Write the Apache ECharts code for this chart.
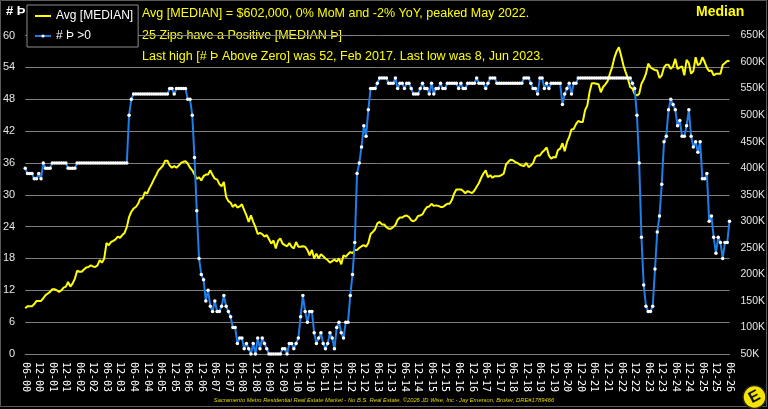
<!DOCTYPE html>
<html>
<head>
<meta charset="utf-8">
<script src="https://cdn.jsdelivr.net/npm/echarts@6/dist/echarts.min.js"></script>
<style>
  html, body { margin: 0; padding: 0; background: #000; }
  #chart { width: 768px; height: 409px; }
</style>
</head>
<body>
<div id="chart"></div>
<script>
/****** DATA ******/
// months from Jun 2000 to Jun 2026, one value per month
const startYear = 2000;
const startMonth = 6;
const monthCount = 313;

// # of zips with median price drop above zero (left axis)
const zipsAboveZero = [
  35,34,34,34,33,33,34,33,36,35,35,35,
  36,36,36,36,36,36,36,35,35,35,35,36,
  36,36,36,36,36,36,36,36,36,36,36,36,
  36,36,36,36,36,36,36,36,36,36,45,48,
  49,49,49,49,49,49,49,49,49,49,49,49,
  49,49,49,49,50,50,49,50,50,50,50,50,
  48,48,45,37,27,18,15,14,10,12,9,8,
  10,8,8,9,11,9,8,7,5,5,2,3,
  3,1,2,1,0,2,0,3,1,3,2,1,
  0,0,0,0,0,0,1,1,0,2,2,1,
  2,3,7,11,8,6,8,8,4,2,3,4,
  2,1,2,4,3,1,5,6,4,3,6,6,
  11,15,21,34,36,39,43,41,46,50,50,50,
  51,52,52,52,52,51,51,51,52,50,51,51,
  50,51,51,50,49,49,49,50,51,50,50,49,
  51,49,50,50,51,50,50,51,51,51,51,51,
  50,51,50,50,51,51,51,51,52,51,51,51,
  50,51,52,52,52,51,51,51,51,51,51,51,
  51,51,51,51,51,52,52,52,51,50,50,49,
  52,52,50,51,50,51,51,51,51,51,47,49,
  50,51,49,51,51,52,52,52,52,52,52,52,
  52,52,52,52,52,52,52,52,52,52,52,52,
  52,52,52,52,52,51,50,45,36,22,13,9,
  8,8,9,16,23,26,32,40,41,46,48,47,
  46,43,44,41,41,43,46,41,39,40,38,40,
  33,33,34,25,26,22,19,22,21,18,21,21,
  25
];

// average median price in $K (right axis)
const avgMedianK = [
  136,140,140,140,144,150,150,150,155,161,164,167,
  172,172,170,167,170,175,177,186,177,183,192,207,
  205,205,209,213,214,217,215,214,217,227,222,230,
  259,255,261,263,266,271,269,274,278,289,308,318,
  324,327,333,343,343,355,352,362,370,379,387,396,
  400,405,414,414,405,401,404,401,405,410,412,413,
  409,401,396,388,380,383,377,385,388,388,396,387,
  380,379,370,366,374,346,338,335,327,332,326,328,
  332,321,311,299,311,299,289,276,278,276,271,274,
  266,258,264,249,263,268,258,255,253,259,252,249,
  261,252,252,253,252,246,236,246,230,239,230,238,
  234,230,227,222,225,228,224,230,219,236,233,238,
  242,240,246,246,250,253,255,252,259,276,280,285,
  296,299,294,294,289,286,286,289,293,303,307,307,
  310,311,308,302,300,303,310,311,313,321,327,328,
  333,329,330,329,327,327,330,333,333,340,352,360,
  360,360,357,353,357,355,353,358,365,372,382,390,
  396,383,387,382,385,385,385,387,390,407,412,416,
  415,412,410,407,405,404,410,402,405,410,421,424,
  424,430,434,439,424,418,421,420,434,437,447,432,
  449,459,473,474,483,489,487,487,509,518,543,560,
  560,559,558,543,553,558,564,578,590,608,620,628,
  612,594,581,569,553,550,540,537,540,559,567,578,
  597,590,587,585,584,570,575,590,595,595,587,592,
  606,587,590,592,575,604,598,578,583,609,594,597,
  609,600,589,583,584,575,578,578,578,595,598,602,
  602
];

const noteLines = [
  'Avg [MEDIAN] = $602,000, 0% MoM and -2% YoY, peaked May 2022.',
  '25 Zips have a Positive [MEDIAN Þ]',
  'Last high [# Þ Above Zero] was 52, Feb 2017. Last low was 8, Jun 2023.'
];
const footerText = 'Sacramento Metro Residential Real Estate Market - No B.S. Real Estate, \u00a92026 JD Wise, Inc - Jay Emerson, Broker, DRE#1789466';

// month labels like "06-00"
var months = [];
for (var i = 0; i < monthCount; i++) {
    var m = (startMonth - 1 + i) % 12 + 1;
    var y = (startYear + Math.floor((startMonth - 1 + i) / 12)) % 100;
    months.push((m < 10 ? '0' : '') + m + '-' + (y < 10 ? '0' : '') + y);
}

var yellow = '#ffff00';
var blue = '#1f7ee8';
var gridGray = '#7f7f7f';
var font = 'Liberation Sans, Arial, sans-serif';

var myChart = echarts.init(document.getElementById('chart'));

var option = {
    animation: false,
    backgroundColor: '#000',
    grid: { left: 23, right: 35, top: 35.5, bottom: 55 },
    legend: {
        left: 27, top: 5,
        orient: 'vertical',
        backgroundColor: '#000',
        borderColor: '#8c8c8c',
        borderWidth: 1,
        padding: [5, 5, 5, 7],
        itemGap: 8,
        itemWidth: 16,
        itemHeight: 4,
        textStyle: { color: '#fff', fontSize: 12, fontFamily: font },
        data: [
            { name: 'Avg [MEDIAN]', itemStyle: { opacity: 0 } },
            { name: '# Þ >0' }
        ]
    },
    xAxis: {
        type: 'category',
        data: months,
        boundaryGap: false,
        axisLine: { lineStyle: { color: gridGray } },
        axisTick: { show: false },
        axisLabel: {
            interval: 5,
            rotate: -90,
            margin: 8,
            color: '#fff',
            fontSize: 10,
            fontFamily: 'DejaVu Sans Mono, monospace'
        }
    },
    yAxis: [{
        type: 'value',
        min: 0, max: 60, interval: 6,
        axisLine: { show: false },
        axisTick: { show: false },
        axisLabel: { color: '#e6e6e6', fontSize: 11, fontFamily: font, margin: 10 },
        splitLine: { lineStyle: { color: gridGray, width: 1 } }
    }, {
        type: 'value',
        min: 50, max: 650, interval: 50,
        axisLine: { show: false },
        axisTick: { show: false },
        splitLine: { show: false },
        axisLabel: {
            color: '#e6e6e6', fontSize: 10.5, fontFamily: font, margin: 11,
            formatter: function (v) { return v + 'K'; }
        }
    }],
    series: [{
        name: 'Avg [MEDIAN]',
        type: 'line',
        yAxisIndex: 1,
        data: avgMedianK,
        symbol: 'none',
        lineStyle: { color: yellow, width: 2 },
        itemStyle: { color: yellow }
    }, {
        name: '# Þ >0',
        type: 'line',
        yAxisIndex: 0,
        data: zipsAboveZero,
        showSymbol: true,
        showAllSymbol: true,
        symbol: 'circle',
        symbolSize: 3.5,
        lineStyle: { color: blue, width: 2 },
        itemStyle: { color: '#fff' }
    }],
    graphic: [
        // top-left title
        { type: 'text', left: 6, top: 5, style: { text: '# Þ', fill: '#fff', font: 'bold 13px ' + font } },
        // top-right title
        { type: 'text', left: 696, top: 5, style: { text: 'Median', fill: yellow, font: 'bold 14px ' + font } },
        { type: 'text', left: 142, top: 7, style: { text: noteLines[0], fill: yellow, font: '12.5px ' + font } },
        { type: 'text', left: 142, top: 29, style: { text: noteLines[1], fill: yellow, font: '12.5px ' + font } },
        { type: 'text', left: 142, top: 50, style: { text: noteLines[2], fill: yellow, font: '12.5px ' + font } },
        // footer
        { type: 'text', left: 'center', top: 397, style: { text: footerText, fill: '#e0d800', font: 'italic 5.8px ' + font } },
        // outer frame
        { type: 'rect', shape: { x: 0.5, y: 0.5, width: 766, height: 406 }, style: { fill: null, stroke: '#5a5a5a', lineWidth: 1 }, silent: true },
        // logo
        { type: 'circle', shape: { cx: 754.5, cy: 397, r: 11.5 }, style: { fill: '#f5e300', stroke: '#222', lineWidth: 1.5 } },
        { type: 'text', x: 754.5, y: 397, rotation: 0.5, style: { text: 'E', fill: '#111', font: 'bold 16px ' + font, align: 'center', verticalAlign: 'middle' } }
    ]
};

myChart.setOption(option);
</script>
</body>
</html>
